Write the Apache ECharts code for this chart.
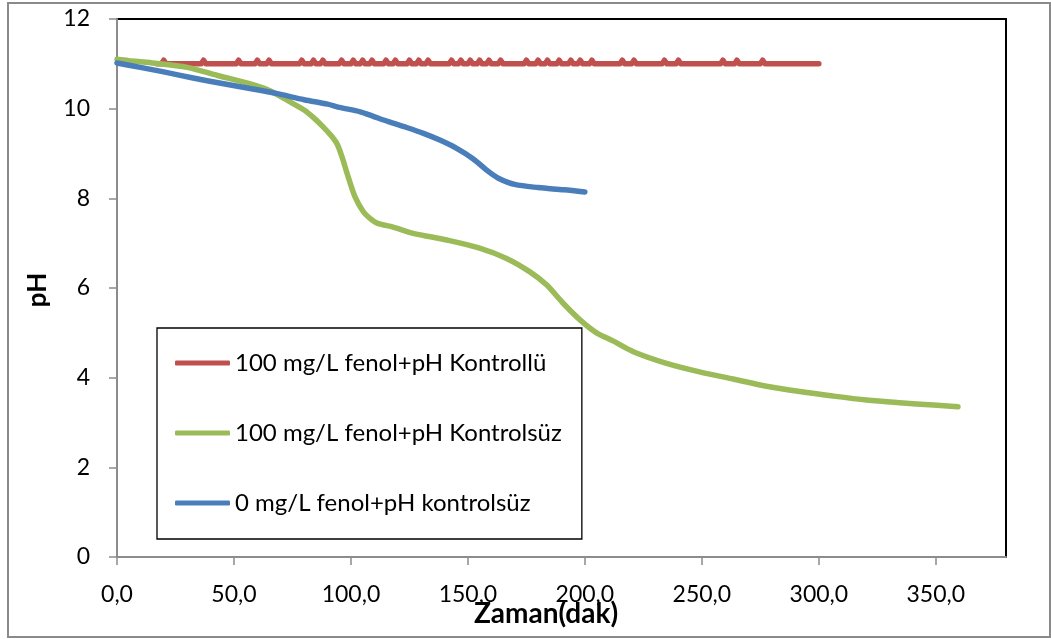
<!DOCTYPE html>
<html>
<head>
<meta charset="utf-8">
<script src="https://cdn.jsdelivr.net/npm/echarts@6/dist/echarts.min.js"></script>
<style>
  html, body { margin: 0; padding: 0; background: #fff; }
  #chart { width: 1051px; height: 639px; }
</style>
</head>
<body>
<div id="chart"></div>
<script>
// Zaman (dak) and pH readings for each run
const seriesNames = [
  '100 mg/L fenol+pH Kontrollü',
  '100 mg/L fenol+pH Kontrolsüz',
  '0 mg/L fenol+pH kontrolsüz'
];

const redTime = [17, 19, 20, 21, 36, 37, 38, 51, 52, 53, 59, 60, 61, 64, 65, 66, 78, 79, 80, 83, 84, 85, 87, 88, 89,
  95, 96, 97, 100, 101, 102, 104, 105, 106, 108, 109, 110, 114, 115, 116, 118, 119, 120, 124, 125, 126, 128, 129, 130,
  132, 133, 134, 142, 143, 144, 146, 147, 148, 150, 151, 152, 154, 155, 156, 158, 159, 160, 163, 164, 165,
  174, 175, 176, 179, 180, 181, 183, 184, 185, 188, 189, 190, 193, 194, 195, 197, 198, 199, 202, 203, 204,
  215, 216, 217, 220, 221, 222, 233, 234, 235, 239, 240, 241, 258, 259, 260, 264, 265, 266, 275, 276, 277, 300];
const redPH = [11.0, 11.0, 11.08, 11.0, 11.0, 11.08, 11.0, 11.0, 11.08, 11.0, 11.0, 11.08, 11.0, 11.0, 11.08, 11.0, 11.0, 11.08, 11.0, 11.0, 11.08, 11.0, 11.0, 11.08, 11.0,
  11.0, 11.08, 11.0, 11.0, 11.08, 11.0, 11.0, 11.08, 11.0, 11.0, 11.08, 11.0, 11.0, 11.08, 11.0, 11.0, 11.08, 11.0, 11.0, 11.08, 11.0, 11.0, 11.08, 11.0,
  11.0, 11.08, 11.0, 11.0, 11.08, 11.0, 11.0, 11.08, 11.0, 11.0, 11.08, 11.0, 11.0, 11.08, 11.0, 11.0, 11.08, 11.0, 11.0, 11.08, 11.0,
  11.0, 11.08, 11.0, 11.0, 11.08, 11.0, 11.0, 11.08, 11.0, 11.0, 11.08, 11.0, 11.0, 11.08, 11.0, 11.0, 11.08, 11.0, 11.0, 11.08, 11.0,
  11.0, 11.08, 11.0, 11.0, 11.08, 11.0, 11.0, 11.08, 11.0, 11.0, 11.08, 11.0, 11.0, 11.08, 11.0, 11.0, 11.08, 11.0, 11.0, 11.08, 11.0, 11.0];

const greenTime = [0, 5, 15, 30, 43, 57, 64, 70, 75, 80, 84, 88, 91, 94, 96, 99, 101.7, 105.3, 108, 111.5, 118, 126.6, 141, 155, 166.5,
  176.5, 183.6, 190.7, 197.9, 205, 212, 220.7, 234.9, 249, 263.4, 277.6, 291.9, 306, 320.4, 334.6, 348.9, 359.5];
const greenPH = [11.1, 11.07, 11.02, 10.92, 10.74, 10.55, 10.43, 10.27, 10.12, 9.97, 9.8, 9.6, 9.43, 9.22, 8.95, 8.45, 8.04, 7.7, 7.56, 7.44, 7.36, 7.22, 7.07, 6.89, 6.66,
  6.36, 6.07, 5.66, 5.29, 5.0, 4.82, 4.58, 4.32, 4.13, 3.97, 3.81, 3.69, 3.59, 3.5, 3.44, 3.39, 3.35];

const blueTime = [0, 10, 20, 32, 45, 58, 68, 80, 90, 95, 104, 109.5, 116, 123.8, 131, 138, 145, 152, 159, 163, 170, 180, 191, 200];
const bluePH = [11.02, 10.92, 10.82, 10.69, 10.56, 10.44, 10.34, 10.2, 10.1, 10.03, 9.93, 9.83, 9.71, 9.58, 9.45, 9.3, 9.12, 8.89, 8.59, 8.45, 8.31, 8.24, 8.19, 8.14];

const xTicks = [0, 50, 100, 150, 200, 250, 300, 350];
const yTicks = [0, 2, 4, 6, 8, 10, 12];

const colors = ['#C0504D', '#9BBB59', '#4A7EBB'];

function pairs(xs, ys) {
  return xs.map((x, i) => [x, ys[i]]);
}

const chart = echarts.init(document.getElementById('chart'));
const labelFont = 'Lato, "Liberation Sans", sans-serif';

chart.setOption({
  animation: false,
  backgroundColor: '#fff',
  color: colors,
  grid: {
    left: 117, top: 19, right: 45, bottom: 82,
    show: true, borderColor: '#000', borderWidth: 2, backgroundColor: '#fff'
  },
  xAxis: {
    type: 'value', min: 0, max: 380, interval: 50,
    axisLine: { show: true, lineStyle: { color: '#8c8c8c', width: 2 } },
    axisTick: { show: true, length: 8, lineStyle: { color: '#8c8c8c', width: 1.5 }, customValues: xTicks },
    axisLabel: {
      customValues: xTicks, margin: 26, color: '#000', fontSize: 23, fontFamily: labelFont,
      formatter: v => v.toFixed(1).replace('.', ',')
    },
    splitLine: { show: false }
  },
  yAxis: {
    type: 'value', min: 0, max: 12, interval: 2,
    axisLine: { show: true, lineStyle: { color: '#8c8c8c', width: 2 } },
    axisTick: { show: true, length: 8, lineStyle: { color: '#8c8c8c', width: 1.5 }, customValues: yTicks },
    axisLabel: { customValues: yTicks, margin: 27, color: '#000', fontSize: 23, fontFamily: labelFont },
    splitLine: { show: false }
  },
  legend: {
    orient: 'vertical',
    left: 157, top: 328,
    padding: [23, 20, 24, 18],
    itemGap: 46,
    itemWidth: 55, itemHeight: 5,
    icon: 'roundRect',
    backgroundColor: '#fff',
    borderColor: '#000', borderWidth: 1.3,
    textStyle: { color: '#000', fontSize: 24, fontFamily: labelFont },
    data: seriesNames
  },
  graphic: [
    { type: 'rect', shape: { x: 8, y: 3, width: 1042, height: 634 }, style: { fill: 'none', stroke: '#8a8a8a', lineWidth: 2 }, silent: true, z: 100 },
    { type: 'text', x: 546, y: 614, style: { text: 'Zaman(dak)', font: 'bold 28px ' + labelFont, fill: '#000', align: 'center', verticalAlign: 'middle' }, z: 100 },
    { type: 'text', x: 38, y: 290, rotation: Math.PI / 2, style: { text: 'pH', font: 'bold 26px ' + labelFont, fill: '#000', align: 'center', verticalAlign: 'middle' }, z: 100 }
  ],
  series: [
    { name: seriesNames[0], type: 'line', data: pairs(redTime, redPH), showSymbol: false, lineStyle: { width: 5.5, color: colors[0], cap: 'round', join: 'round' } },
    { name: seriesNames[1], type: 'line', data: pairs(greenTime, greenPH), showSymbol: false, smooth: 0.3, lineStyle: { width: 5.5, color: colors[1], cap: 'round', join: 'round' } },
    { name: seriesNames[2], type: 'line', data: pairs(blueTime, bluePH), showSymbol: false, smooth: 0.3, lineStyle: { width: 5.5, color: colors[2], cap: 'round', join: 'round' } }
  ]
});
</script>
</body>
</html>
